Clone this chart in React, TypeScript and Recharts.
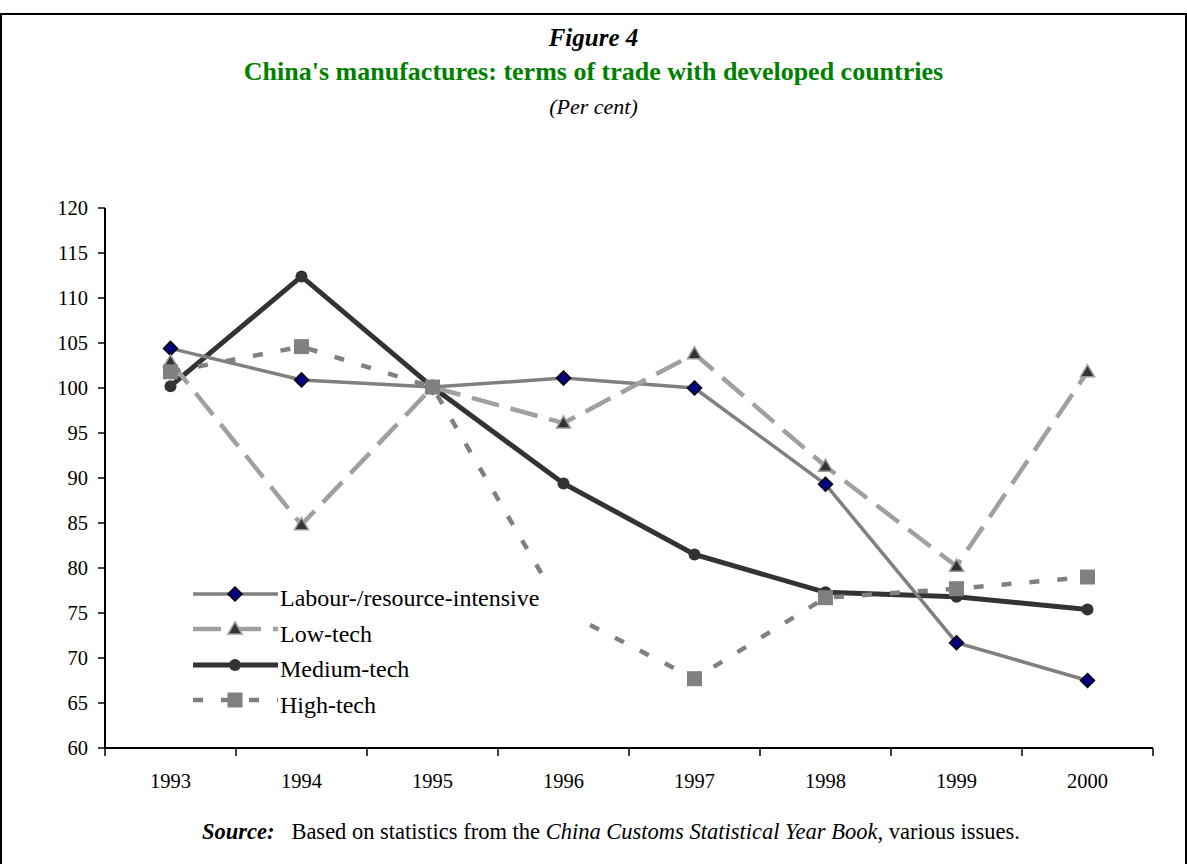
import React from 'react';
import { LineChart, Line, XAxis, YAxis, Legend } from 'recharts';

const years = [1993, 1994, 1995, 1996, 1997, 1998, 1999, 2000];
const labour = [104.4, 100.9, 100.1, 101.1, 100.0, 89.3, 71.7, 67.5];
const lowTech = [102.9, 84.8, 100.1, 96.1, 103.8, 91.3, 80.2, 101.8];
const mediumTech = [100.2, 112.4, 100.1, 89.4, 81.5, 77.3, 76.8, 75.4];
const highTech = [101.8, 104.6, 100.1, 75.2, 67.7, 76.7, 77.7, 79.0];
const yTicks = [60, 65, 70, 75, 80, 85, 90, 95, 100, 105, 110, 115, 120];

const seriesNames = {
  labour: 'Labour-/resource-intensive',
  lowTech: 'Low-tech',
  mediumTech: 'Medium-tech',
  highTech: 'High-tech',
};

const data = years.map((y, i) => ({
  year: y,
  labour: labour[i],
  lowTech: lowTech[i],
  mediumTech: mediumTech[i],
  highTech: highTech[i],
}));

const xTicks = [...years.flatMap((y) => [y - 0.5, y]), years[years.length - 1] + 0.5];

const FONT = "'Liberation Serif', 'Times New Roman', serif";

const Diamond = ({ cx, cy }: any) => (
  <polygon points={`${cx},${cy - 7} ${cx + 7},${cy} ${cx},${cy + 7} ${cx - 7},${cy}`} fill="#000080" stroke="#000" strokeWidth={1.5} />
);
const Triangle = ({ cx, cy }: any) => (
  <polygon points={`${cx},${cy - 7} ${cx + 7},${cy + 5} ${cx - 7},${cy + 5}`} fill="#333333" stroke="#999999" strokeWidth={1.5} />
);
const Circle = ({ cx, cy }: any) => <circle cx={cx} cy={cy} r={6} fill="#333333" />;
const Square = ({ cx, cy }: any) => <rect x={cx - 7.5} y={cy - 7.5} width={15} height={15} fill="#808080" />;

const styles: any = {
  labour: { stroke: '#808080', width: 3.5, dash: undefined, Marker: Diamond },
  lowTech: { stroke: '#a0a0a0', width: 4.5, dash: '28 12', Marker: Triangle },
  mediumTech: { stroke: '#333333', width: 5, dash: undefined, Marker: Circle },
  highTech: { stroke: '#808080', width: 4.5, dash: '10 18', Marker: Square },
};

const mkDot = (key: string) => (props: any) => {
  const M = styles[key].Marker;
  return <M key={`${key}-${props.index}`} cx={props.cx} cy={props.cy} />;
};

const XTick = ({ x, y, payload }: any) => {
  if (payload.value % 1 !== 0) {
    return <line x1={x} x2={x} y1={y - 8} y2={y} stroke="#000" strokeWidth={1.5} />;
  }
  return (
    <text x={x} y={y + 32} textAnchor="middle" fontFamily={FONT} fontSize={20.5} fill="#000">
      {payload.value}
    </text>
  );
};

const legendOrder = ['labour', 'lowTech', 'mediumTech', 'highTech'];

const LegendContent = () => (
  <div style={{ background: '#fff', width: 390, padding: '2px 0 4px 0', boxSizing: 'border-box' }}>
    {legendOrder.map((k) => {
      const s = styles[k];
      const M = s.Marker;
      return (
        <div key={k} style={{ display: 'flex', alignItems: 'center', height: 35.5 }}>
          <svg width={90} height={20} style={{ display: 'block' }}>
            <line x1={3} x2={88} y1={8} y2={8} stroke={s.stroke} strokeWidth={s.width} strokeDasharray={s.dash} />
            <M cx={45} cy={8} />
          </svg>
          <span style={{ fontFamily: FONT, fontSize: 24, color: '#000', marginTop: 6, whiteSpace: 'nowrap' }}>{(seriesNames as any)[k]}</span>
        </div>
      );
    })}
  </div>
);

export default function App() {
  return (
    <div style={{ position: 'absolute', left: 0, top: 0, width: 1187, height: 864, background: '#fff', overflow: 'hidden' }}>
      <div style={{ position: 'absolute', left: 0, top: 13, width: 1187, height: 860, boxSizing: 'border-box', border: '2px solid #000' }} />
      <div style={{ position: 'absolute', left: 0, width: 1187, top: 25, lineHeight: 1, textAlign: 'center', fontFamily: FONT, fontSize: 25, fontWeight: 'bold', fontStyle: 'italic' }}>
        Figure 4
      </div>
      <div style={{ position: 'absolute', left: 0, width: 1187, top: 59, lineHeight: 1, textAlign: 'center', fontFamily: FONT, fontSize: 26, fontWeight: 'bold', color: '#008000' }}>
        China's manufactures: terms of trade with developed countries
      </div>
      <div style={{ position: 'absolute', left: 0, width: 1187, top: 96, lineHeight: 1, textAlign: 'center', fontFamily: FONT, fontSize: 22, fontStyle: 'italic' }}>
        (Per cent)
      </div>
      <div style={{ position: 'absolute', left: 0, top: 0 }}>
        <LineChart width={1187} height={864} data={data} margin={{ top: 208, right: 34, bottom: 56, left: 45 }}>
          <XAxis
            dataKey="year"
            type="number"
            domain={[1992.5, 2000.5]}
            ticks={xTicks}
            interval={0}
            tickLine={false}
            tickSize={8}
            tickMargin={0}
            tick={<XTick />}
            axisLine={{ stroke: '#000', strokeWidth: 2 }}
            height={60}
          />
          <YAxis
            domain={[60, 120]}
            ticks={yTicks}
            interval={0}
            width={60}
            tickSize={7}
            tickMargin={10}
            tick={{ fontFamily: FONT, fontSize: 20.5, fill: '#000' }}
            tickLine={{ stroke: '#000', strokeWidth: 1.5 }}
            axisLine={{ stroke: '#000', strokeWidth: 2 }}
          />
          {['mediumTech', 'labour', 'lowTech', 'highTech'].map((k) => (
            <Line
              key={k}
              dataKey={k}
              name={(seriesNames as any)[k]}
              stroke={styles[k].stroke}
              strokeWidth={styles[k].width}
              strokeDasharray={styles[k].dash}
              dot={mkDot(k)}
              activeDot={false}
              isAnimationActive={false}
            />
          ))}
          <Legend
            layout="horizontal"
            verticalAlign="middle"
            align="center"
            content={<LegendContent />}
            wrapperStyle={{ position: 'absolute', left: 190, top: 576, width: 'auto', height: 'auto' }}
          />
        </LineChart>
      </div>
      <div style={{ position: 'absolute', left: 202, top: 821, lineHeight: 1, fontFamily: FONT, fontSize: 22.5, whiteSpace: 'nowrap' }}>
        <b><i>Source:</i></b>&nbsp;&nbsp; Based on statistics from the <i>China Customs Statistical Year Book,</i> various issues.
      </div>
    </div>
  );
}
